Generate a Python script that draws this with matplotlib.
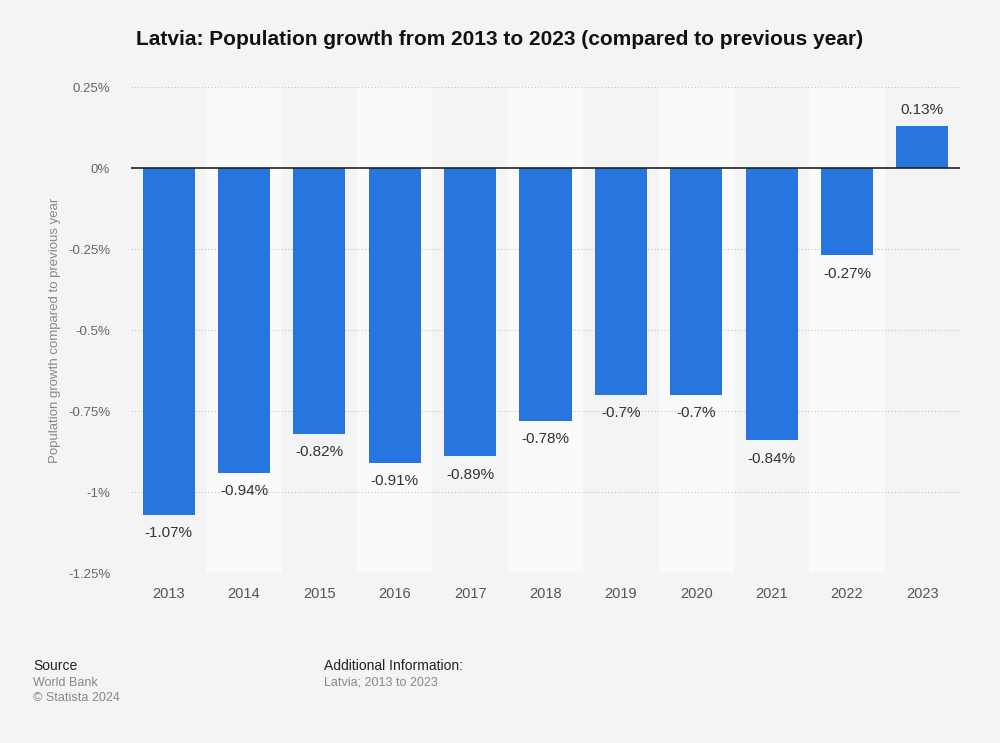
import matplotlib.pyplot as plt
import numpy as np

years = ["2013", "2014", "2015", "2016", "2017", "2018", "2019", "2020", "2021", "2022", "2023"]
growth = [-1.07, -0.94, -0.82, -0.91, -0.89, -0.78, -0.7, -0.7, -0.84, -0.27, 0.13]
yticks = [0.25, 0, -0.25, -0.5, -0.75, -1, -1.25]
ytick_labels = ["0.25%", "0%", "-0.25%", "-0.5%", "-0.75%", "-1%", "-1.25%"]

plt.rcParams["font.family"] = ["Liberation Sans", "DejaVu Sans"]

bg = "#f4f4f4"
fig = plt.figure(figsize=(10, 7.43), dpi=100, facecolor=bg)
ax = fig.add_axes([0.131, 0.2288, 0.829, 0.6541])
ax.set_facecolor(bg)

x = np.arange(len(years))
ax.set_xlim(-0.5, len(years) - 0.5)
ax.set_ylim(-1.25, 0.25)

# alternating column bands
for i in x:
    if i % 2 == 1:
        ax.axvspan(i - 0.5, i + 0.5, color="#fafafa", zorder=0, lw=0)

for yt in yticks:
    if yt != 0:
        ax.axhline(yt, color="#c4c4c4", lw=0.8, ls=(0, (1, 2)), zorder=1)

ax.bar(x, growth, width=0.69, color="#2775de", zorder=2)
ax.axhline(0, color="#222222", lw=1.2, zorder=3)

for xi, v in zip(x, growth):
    label = f"{v:g}%"
    if v < 0:
        ax.text(xi, v - 0.035, label, ha="center", va="top", fontsize=11, color="#333333")
    else:
        ax.text(xi, v + 0.028, label, ha="center", va="bottom", fontsize=11, color="#333333")

ax.set_xticks(x)
ax.set_xticklabels(years, fontsize=10.5, color="#555555")
ax.set_yticks(yticks)
ax.set_yticklabels(ytick_labels, fontsize=9.5, color="#666666")
ax.tick_params(axis="both", length=0)
ax.tick_params(axis="x", pad=10)
ax.tick_params(axis="y", pad=15)
for s in ax.spines.values():
    s.set_visible(False)

ax.set_ylabel("Population growth compared to previous year", fontsize=9.5, color="#888888", labelpad=5)

fig.text(0.5, 0.947, "Latvia: Population growth from 2013 to 2023 (compared to previous year)",
         ha="center", va="center", fontsize=15, fontweight="bold", color="#111111")

fig.text(0.033, 0.104, "Source", fontsize=10, color="#222222", va="center")
fig.text(0.033, 0.081, "World Bank", fontsize=9, color="#888888", va="center")
fig.text(0.033, 0.060, "\u00a9 Statista 2024", fontsize=9, color="#888888", va="center")
fig.text(0.324, 0.104, "Additional Information:", fontsize=10, color="#222222", va="center")
fig.text(0.324, 0.081, "Latvia; 2013 to 2023", fontsize=9, color="#888888", va="center")

fig.savefig("out.png", dpi=100, facecolor=bg)
